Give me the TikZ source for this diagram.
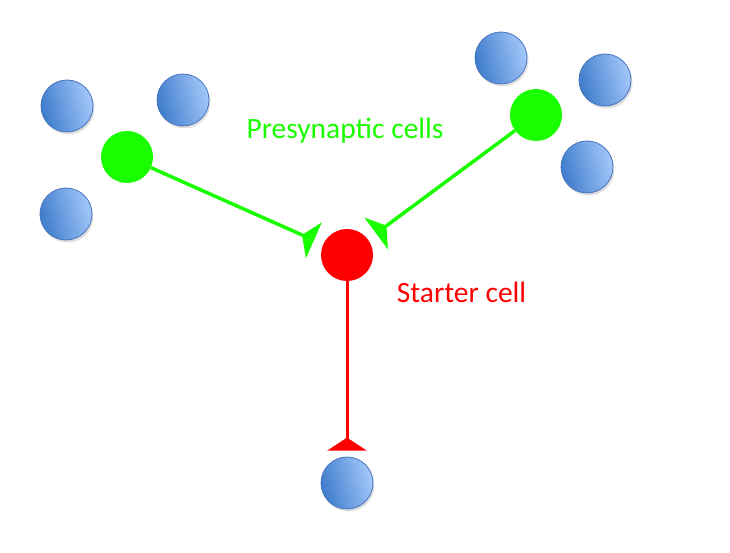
\documentclass[tikz,border=0pt]{standalone}
\usepackage{fontspec}
\setmainfont{Carlito}
\usepackage{tikz}
\usetikzlibrary{arrows.meta, shadows}
\definecolor{synGreen}{RGB}{26,255,0}
\definecolor{starterRed}{RGB}{255,0,0}
\definecolor{cellDark}{RGB}{62,124,204}
\definecolor{cellLight}{RGB}{164,200,250}
\definecolor{cellEdge}{RGB}{70,116,190}

\begin{document}
\begin{tikzpicture}[
  x=1pt, y=-1pt,
  other/.style={circle, inner sep=0pt, minimum size=52pt, draw=cellEdge, line width=0.8pt,
    left color=cellDark, right color=cellLight, shading angle=105,
    drop shadow={shadow xshift=1.5pt, shadow yshift=-2.5pt, opacity=0.25}},
  pre/.style={circle, inner sep=0pt, minimum size=52pt, fill=synGreen},
  starter/.style={circle, inner sep=0pt, minimum size=52pt, fill=starterRed},
  syn/.style={synGreen, line width=3.5pt, shorten >=10pt,
    -{Triangle[reversed, length=13pt, width=39pt]}},
  axon/.style={starterRed, line width=3pt, shorten >=6pt,
    -{Triangle[reversed, length=13pt, width=39pt]}},
  lbl/.style={font=\fontsize{29.5}{34}\selectfont, anchor=base},
]
  \useasboundingbox (0,0) rectangle (730,553);

  % presynaptic neighbourhoods
  \node[other] (l1) at (67,106) {};
  \node[other] (l2) at (183,100) {};
  \node[other] (l3) at (66,214) {};
  \node[other] (r1) at (501,58) {};
  \node[other] (r2) at (605,80) {};
  \node[other] (r3) at (587,167) {};
  \node[other] (bot) at (347,483) {};

  \node[pre] (gl) at (127,157) {};
  \node[pre] (gr) at (536,115) {};
  \node[starter] (st) at (347,255) {};

  \draw[syn] (gl) -- (st);
  \draw[syn] (gr) -- (st);
  \draw[axon] (st) -- (bot);

  \node[lbl, text=synGreen] (prelbl) at (345,139) {Presynaptic cells};
  \node[lbl, text=starterRed] (stlbl) at (461.5,302) {Starter cell};
\end{tikzpicture}
\end{document}
